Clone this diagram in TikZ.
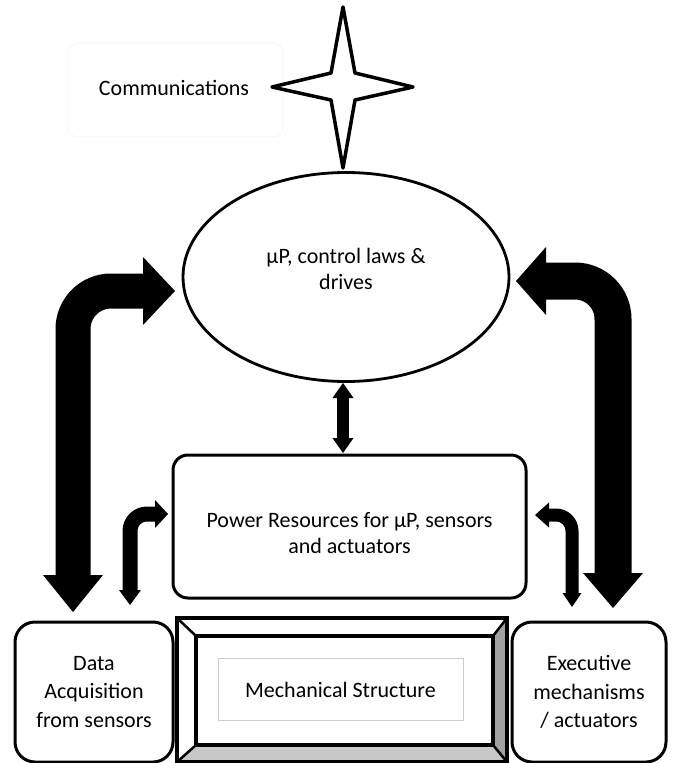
\documentclass[tikz,border=0pt]{standalone}
\usepackage{fontspec}
\setmainfont{Carlito}
\usetikzlibrary{shapes.geometric,arrows.meta}
\begin{document}
\begin{tikzpicture}[x=1pt,y=-1pt,
  txt/.style={font=\fontsize{22}{26}\selectfont, align=center, inner sep=0pt},
  boxline/.style={draw=black, line width=3pt},
  fatarrow/.style={line width=#1, rounded corners=38pt}]
\useasboundingbox (0,0) rectangle (672,763);

% faint frame behind the communications label
\draw[black!5, line width=0.6pt, rounded corners=10pt] (68,43) rectangle (283,137);
\node[txt] (comm) at (174,88) {Communications};

% four-pointed star
\draw[line width=3.5pt, line join=round, fill=white]
  (343,7) -- (355,73) -- (413,87) -- (355,100) -- (343,168)
  -- (331,100) -- (272,87) -- (331,73) -- cycle;
\coordinate (star) at (343,87);

% controller ellipse
\node[ellipse, boxline, line width=2.8pt, minimum width=326pt, minimum height=209pt, inner sep=0pt]
  (mp) at (346,277) {};
\node[txt] (mptxt) at (346,269) {\textmu P, control laws \&\\drives};

% power resources box
\node[boxline, rounded corners=15pt, minimum width=353pt, minimum height=143pt, inner sep=0pt]
  (pw) at (349.5,526.5) {};
\node[txt] (pwtxt) at (349.5,533) {Power Resources for \textmu P, sensors\\and actuators};

% side boxes
\node[boxline, rounded corners=20pt, minimum width=158pt, minimum height=140pt, inner sep=0pt,
      txt, font=\fontsize{22}{28.5}\selectfont]
  (daq) at (94,692) {Data\\Acquisition\\from sensors};
\node[boxline, rounded corners=20pt, minimum width=154pt, minimum height=140pt, inner sep=0pt,
      txt, font=\fontsize{22}{28.5}\selectfont]
  (exe) at (589,692) {Executive\\mechanisms\\/ actuators};

% bevelled frame of the mechanical structure
\fill[white]      (177,618) -- (507,618) -- (493,636) -- (196,636) -- cycle;
\fill[white]      (177,618) -- (196,636) -- (196,745) -- (177,762) -- cycle;
\fill[black!37]   (507,618) -- (507,762) -- (493,745) -- (493,636) -- cycle;
\fill[black!22]   (177,762) -- (507,762) -- (493,745) -- (196,745) -- cycle;
\draw[line width=2.5pt] (177,618) -- (196,636) (507,618) -- (493,636)
  (177,762) -- (196,745) (507,762) -- (493,745);
\draw[line width=4pt] (196,636) rectangle (493,745);
\draw[line width=4pt] (177,618) rectangle (507,762);
\node[draw=black!20, line width=1pt, minimum width=245pt, minimum height=62pt, inner sep=0pt, txt]
  (mech) at (340.5,689.5) {Mechanical Structure};

% connector end points
\coordinate (l0) at (73,612);   \coordinate (l1) at (175,291);
\coordinate (r0) at (613,608);  \coordinate (r1) at (516,281);
\coordinate (sl0) at (130,605); \coordinate (sl1) at (168,514);
\coordinate (sr0) at (572,607); \coordinate (sr1) at (535,515);
\coordinate (v0) at (343,383);  \coordinate (v1) at (343,453);

% large loops between the side boxes and the controller
\draw[fatarrow=35pt, {Triangle[width=60pt,length=37pt,line width=0pt]}-{Triangle[width=68pt,length=32pt,line width=0pt]}]
  (l0) |- (l1);
\draw[fatarrow=37pt, {Triangle[width=60pt,length=35pt,line width=0pt]}-{Triangle[width=68pt,length=30pt,line width=0pt]}]
  (r0) |- (r1);

% small loops between the side boxes and the power box
\draw[line width=15pt, rounded corners=17pt, {Triangle[width=22pt,length=15pt,line width=0pt]}-{Triangle[width=28pt,length=13pt,line width=0pt]}]
  (sl0) |- (sl1);
\draw[line width=13pt, rounded corners=16pt, {Triangle[width=19pt,length=14pt,line width=0pt]}-{Triangle[width=25pt,length=14pt,line width=0pt]}]
  (sr0) |- (sr1);

% controller <-> power link
\draw[line width=12pt, {Triangle[width=21pt,length=15pt,line width=0pt]}-{Triangle[width=21pt,length=15pt,line width=0pt]}]
  (v0) -- (v1);
\end{tikzpicture}
\end{document}
